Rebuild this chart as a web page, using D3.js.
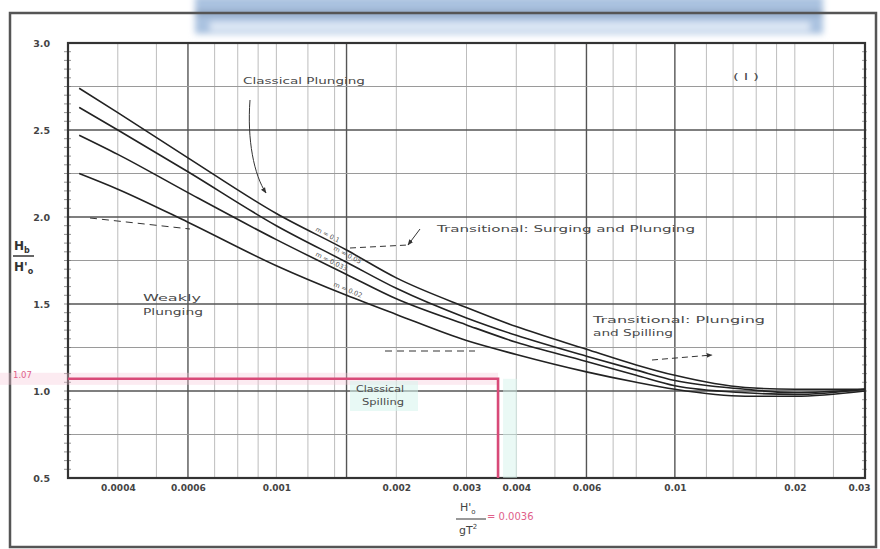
<!DOCTYPE html>
<html>
<head>
<meta charset="utf-8">
<script src="https://cdn.jsdelivr.net/npm/d3@7"></script>
<style>
  body { margin: 0; background: #fff; }
  svg { display: block; }
  text { font-family: "DejaVu Sans", "Liberation Sans", sans-serif; }
</style>
</head>
<body>
<svg id="chart" width="880" height="549"></svg>
<script>
// Deepwater wave steepness H'o/gT^2 at which the curves are sampled
const steepness = [0.00032, 0.0004, 0.0006, 0.001, 0.0015, 0.002, 0.003, 0.004, 0.006, 0.008, 0.01, 0.015, 0.02, 0.03];
// Breaker height index Hb/H'o for four beach slopes
const slopeM010 = [2.74, 2.60, 2.34, 2.02, 1.81, 1.65, 1.48, 1.37, 1.24, 1.15, 1.09, 1.02, 1.01, 1.01];
const slopeM005 = [2.63, 2.50, 2.26, 1.95, 1.74, 1.59, 1.42, 1.32, 1.20, 1.12, 1.06, 1.01, 0.99, 1.01];
const slopeM033 = [2.47, 2.36, 2.14, 1.87, 1.67, 1.53, 1.38, 1.28, 1.17, 1.09, 1.03, 0.99, 0.98, 1.01];
const slopeM002 = [2.25, 2.16, 1.97, 1.72, 1.55, 1.44, 1.29, 1.21, 1.11, 1.05, 1.01, 0.97, 0.97, 1.00];
const slopeLabels = ["m = 0.1", "m = 0.05", "m = 0.033", "m = 0.02"];

// Axis ticks
const xTickValues = [0.0004, 0.0006, 0.001, 0.002, 0.003, 0.004, 0.006, 0.01, 0.02, 0.03];
const xTickLabels = ["0.0004", "0.0006", "0.001", "0.002", "0.003", "0.004", "0.006", "0.01", "0.02", "0.03"];
const yTickValues = [0.5, 1.0, 1.5, 2.0, 2.5, 3.0];
const yTickLabels = ["0.5", "1.0", "1.5", "2.0", "2.5", "3.0"];

// Grid lines
const xGridMajor = [0.0006, 0.0015, 0.006, 0.01];
const xGridMinor = [0.0004, 0.0005, 0.0007, 0.0008, 0.0009, 0.001, 0.0012, 0.0014, 0.002, 0.003, 0.004, 0.005, 0.007, 0.008, 0.012, 0.014, 0.016, 0.018, 0.02, 0.025];
const yGridMajor = [1.0, 1.5, 2.0, 2.5];
const yGridMinor = [0.75, 1.25, 1.75, 2.25, 2.75];

// Worked example
const exampleSteepness = 0.0036;
const exampleIndex = 1.07;

const svg = d3.select("#chart");
const x = d3.scaleLog().domain([0.0003, 0.03]).range([68, 865]);
const y = d3.scaleLinear().domain([0.5, 3.0]).range([478, 43]);

const defs = svg.append("defs");
defs.append("filter").attr("id", "soft").attr("x", "-10%").attr("y", "-50%").attr("width", "120%").attr("height", "200%")
  .append("feGaussianBlur").attr("stdDeviation", 3);
defs.append("marker").attr("id", "arrow").attr("viewBox", "0 0 10 10").attr("refX", 9).attr("refY", 5)
  .attr("markerWidth", 6).attr("markerHeight", 6).attr("orient", "auto-start-reverse")
  .append("path").attr("d", "M0,1 L10,5 L0,9 z").attr("fill", "#333");

// Banner strip along the top
const banner = svg.append("g").attr("filter", "url(#soft)");
banner.append("rect").attr("x", 195).attr("y", -4).attr("width", 628).attr("height", 38).attr("fill", "#aac2e0");
banner.append("rect").attr("x", 210).attr("y", 22).attr("width", 600).attr("height", 9).attr("fill", "#dfe9f6");
banner.append("rect").attr("x", 195).attr("y", 11).attr("width", 628).attr("height", 4).attr("fill", "#8298b3");

// Outer frame
svg.append("rect").attr("x", 10).attr("y", 13).attr("width", 866).attr("height", 534)
  .attr("fill", "none").attr("stroke", "#555").attr("stroke-width", 2.5);

// Grid
const grid = svg.append("g");
grid.selectAll(".gxm").data(xGridMinor).join("line")
  .attr("x1", d => x(d)).attr("x2", d => x(d)).attr("y1", y(3.0)).attr("y2", y(0.5))
  .attr("stroke", "#bdbdbd").attr("stroke-width", 1);
grid.selectAll(".gxM").data(xGridMajor).join("line")
  .attr("x1", d => x(d)).attr("x2", d => x(d)).attr("y1", y(3.0)).attr("y2", y(0.5))
  .attr("stroke", "#555").attr("stroke-width", 1.4);
grid.selectAll(".gym").data(yGridMinor).join("line")
  .attr("x1", x(0.0003)).attr("x2", x(0.03)).attr("y1", d => y(d)).attr("y2", d => y(d))
  .attr("stroke", "#9a9a9a").attr("stroke-width", 1);
grid.selectAll(".gyM").data(yGridMajor).join("line")
  .attr("x1", x(0.0003)).attr("x2", x(0.03)).attr("y1", d => y(d)).attr("y2", d => y(d))
  .attr("stroke", "#555").attr("stroke-width", 1.4);

// Minor ticks on both side edges
const yMinorTicks = d3.range(0.55, 3.0, 0.05);
svg.append("g").selectAll("line").data(yMinorTicks).join("line")
  .attr("x1", x(0.0003) - 4).attr("x2", x(0.0003) + 3).attr("y1", d => y(d)).attr("y2", d => y(d))
  .attr("stroke", "#777").attr("stroke-width", 0.8);
svg.append("g").selectAll("line").data(yMinorTicks).join("line")
  .attr("x1", x(0.03) - 3).attr("x2", x(0.03) + 2).attr("y1", d => y(d)).attr("y2", d => y(d))
  .attr("stroke", "#888").attr("stroke-width", 0.8);

// Plot frame
svg.append("rect").attr("x", x(0.0003)).attr("y", y(3.0))
  .attr("width", x(0.03) - x(0.0003)).attr("height", y(0.5) - y(3.0))
  .attr("fill", "none").attr("stroke", "#333").attr("stroke-width", 2.2);

// Axes (labels only; the frame draws the lines)
const xAxis = svg.append("g").attr("transform", `translate(0,${y(0.5)})`)
  .call(d3.axisBottom(x).tickValues(xTickValues).tickSize(0).tickPadding(7)
    .tickFormat((d, i) => xTickLabels[i]));
xAxis.select(".domain").remove();
xAxis.selectAll("text").attr("font-size", 9).attr("font-weight", "bold").attr("fill", "#444")
  .attr("font-family", "\"DejaVu Sans\", sans-serif");
xAxis.selectAll(".tick").filter((d, i) => i === xTickValues.length - 1).select("text").attr("dx", -6);

const yAxis = svg.append("g").attr("transform", `translate(${x(0.0003) - 18},0)`)
  .call(d3.axisLeft(y).tickValues(yTickValues).tickSize(0).tickPadding(0)
    .tickFormat((d, i) => yTickLabels[i]));
yAxis.select(".domain").remove();
yAxis.selectAll("text").attr("font-size", 9.5).attr("font-weight", "bold").attr("fill", "#444")
  .attr("font-family", "\"DejaVu Sans\", sans-serif");

// Worked example: pink guide lines
svg.append("rect").attr("x", 0).attr("y", y(exampleIndex) - 6).attr("width", x(exampleSteepness))
  .attr("height", 12).attr("fill", "#f7c6d6").attr("opacity", 0.35);
svg.append("rect").attr("x", x(exampleSteepness) + 5).attr("y", y(exampleIndex))
  .attr("width", 14).attr("height", y(0.5) - y(exampleIndex)).attr("fill", "#d6f4ec").attr("opacity", 0.5);
svg.append("rect").attr("x", 350).attr("y", 381).attr("width", 68).attr("height", 30)
  .attr("fill", "#d6f4ec").attr("opacity", 0.55);
svg.append("path")
  .attr("d", `M${x(0.0003)},${y(exampleIndex)} L${x(exampleSteepness)},${y(exampleIndex)} L${x(exampleSteepness)},${y(0.5)}`)
  .attr("fill", "none").attr("stroke", "#d84a78").attr("stroke-width", 2.6);
svg.append("text").attr("x", 13).attr("y", y(exampleIndex) - 1).attr("text-anchor", "start")
  .attr("font-size", 8.5).attr("fill", "#e0608a").text(d3.format(".2f")(exampleIndex));

// Breaker height curves
const series = [slopeM010, slopeM005, slopeM033, slopeM002];
const line = d3.line().x((d, i) => x(steepness[i])).y(d => y(d)).curve(d3.curveMonotoneX);
svg.append("g").selectAll("path").data(series).join("path")
  .attr("d", line).attr("fill", "none").attr("stroke", "#222").attr("stroke-width", 1.6);

// Slope labels set along each curve
series.forEach((s, k) => {
  const xs = 0.00125, xa = 0.0011, xb = 0.0014;
  const interp = v => {
    const i = d3.bisector(d => d).left(steepness, v);
    const t = (Math.log(v) - Math.log(steepness[i - 1])) / (Math.log(steepness[i]) - Math.log(steepness[i - 1]));
    return s[i - 1] + t * (s[i] - s[i - 1]);
  };
  const px = x(xs) + (k % 2) * 18, py = y(interp(xs)) + (k % 2) * 7;
  const ang = Math.atan2(y(interp(xb)) - y(interp(xa)), x(xb) - x(xa)) * 180 / Math.PI;
  svg.append("text").attr("transform", `translate(${px},${py - 3}) rotate(${ang})`)
    .attr("font-size", 6.5).attr("fill", "#555").text(slopeLabels[k]);
});

// Annotations
const notes = svg.append("g").attr("fill", "#4a4a4a").attr("font-size", 8);
const note = (t, nx, ny, len) => notes.append("text").attr("x", nx).attr("y", ny)
  .attr("textLength", len).attr("lengthAdjust", "spacingAndGlyphs").text(t);
note("Classical Plunging", 243, 84, 122);
note("Transitional: Surging and Plunging", 437, 232, 258);
note("Weakly", 143, 301, 58);
note("Plunging", 143, 315, 60);
note("Transitional: Plunging", 593, 323, 172);
note("and Spilling", 593, 336, 80);
note("Classical", 356, 392, 48);
note("Spilling", 362, 405, 42);
note("( I )", 733, 80, 26);

const leaders = svg.append("g").attr("fill", "none").attr("stroke", "#333").attr("stroke-width", 1);
leaders.append("path").attr("d", "M250,100 C247,140 254,175 266,193").attr("marker-end", "url(#arrow)");
leaders.append("path").attr("d", "M350,248 L408,245").attr("stroke-dasharray", "6,4");
leaders.append("path").attr("d", "M420,229 L408,245").attr("marker-end", "url(#arrow)");
leaders.append("path").attr("d", "M90,218 L190,229").attr("stroke-dasharray", "7,5");
leaders.append("path").attr("d", "M385,351 L475,351").attr("stroke-dasharray", "7,5");
leaders.append("path").attr("d", "M652,360 L712,355").attr("stroke-dasharray", "6,4").attr("marker-end", "url(#arrow)");

// Axis titles
const yt = svg.append("g").attr("fill", "#333").attr("font-weight", "bold");
yt.append("text").attr("x", 14).attr("y", 250).attr("font-size", 12).text("H")
  .append("tspan").attr("font-size", 8).attr("dy", 3).text("b");
yt.append("line").attr("x1", 13).attr("x2", 34).attr("y1", 256).attr("y2", 256).attr("stroke", "#333").attr("stroke-width", 1.5);
yt.append("text").attr("x", 14).attr("y", 271).attr("font-size", 12).text("H'")
  .append("tspan").attr("font-size", 8).attr("dy", 3).text("o");

const xt = svg.append("g").attr("fill", "#444");
xt.append("text").attr("x", 460).attr("y", 511).attr("font-size", 11).text("H'")
  .append("tspan").attr("font-size", 7).attr("dy", 3).text("o");
xt.append("line").attr("x1", 456).attr("x2", 486).attr("y1", 519).attr("y2", 519).attr("stroke", "#555").attr("stroke-width", 1.2);
xt.append("text").attr("x", 459).attr("y", 534).attr("font-size", 11).text("gT")
  .append("tspan").attr("font-size", 7).attr("dy", -5).text("2");
svg.append("text").attr("x", 487).attr("y", 520).attr("font-size", 10).attr("fill", "#e0608a")
  .text("= " + exampleSteepness);
</script>
</body>
</html>
